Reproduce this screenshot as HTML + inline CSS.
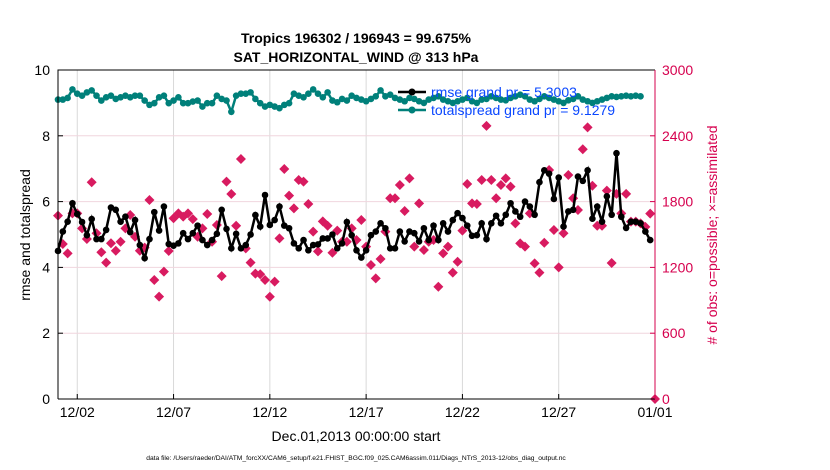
<!DOCTYPE html>
<html><head><meta charset="utf-8">
<style>
html,body{margin:0;padding:0;background:#fff;}
svg{display:block;font-family:"Liberation Sans",sans-serif;}
</style></head>
<body>
<svg id="chart" width="830" height="470" viewBox="0 0 830 470" xmlns="http://www.w3.org/2000/svg">
<g id="grid"></g>
<g id="series"></g>
<g id="axes"></g>
<text x="356" y="43" text-anchor="middle" font-size="14" font-weight="bold">Tropics 196302 / 196943 = 99.675%</text>
<text x="356" y="62" text-anchor="middle" font-size="14" font-weight="bold">SAT_HORIZONTAL_WIND @ 313 hPa</text>
<text transform="translate(30,235) rotate(-90)" text-anchor="middle" font-size="14">rmse and totalspread</text>
<text transform="translate(717,235) rotate(-90)" text-anchor="middle" font-size="14" fill="#d6004e"># of obs: o=possible; ×=assimilated</text>
<text x="356" y="441" text-anchor="middle" font-size="14">Dec.01,2013 00:00:00 start</text>
<text x="356" y="460" text-anchor="middle" font-size="6.7">data file: /Users/raeder/DAI/ATM_forcXX/CAM6_setup/f.e21.FHIST_BGC.f09_025.CAM6assim.011/Diags_NTrS_2013-12/obs_diag_output.nc</text>
<g id="legend">
  <g>
    <line x1="398" y1="92" x2="426" y2="92" stroke="#000" stroke-width="2.5"/>
    <circle cx="412" cy="92" r="3.5" fill="#000"/>
    <text x="431" y="97" font-size="14" fill="#0a47ff">rmse grand pr = 5.3003</text>
  </g>
  <g>
    <line x1="398" y1="110" x2="426" y2="110" stroke="#00807a" stroke-width="2.5"/>
    <circle cx="412" cy="110" r="3.5" fill="#00807a"/>
    <text x="431" y="115" font-size="14" fill="#0a47ff">totalspread grand pr = 9.1279</text>
  </g>
</g>
</svg>
<script>
const xTickDays = [2,7,12,17,22,27,32];
const xTickLabels = ["12/02","12/07","12/12","12/17","12/22","12/27","01/01"];
const leftTicks = [0,2,4,6,8,10];
const rightTicks = [0,600,1200,1800,2400,3000];
const rmse = [4.5,5.09,5.39,5.95,5.62,5.38,4.98,5.47,4.86,4.86,5.14,5.82,5.75,5.39,5.54,5.07,5.44,4.68,4.28,4.86,5.68,5.12,5.85,4.71,4.66,4.73,5.04,4.86,5.04,5.27,4.83,4.68,4.83,5.02,5.75,5.17,4.58,5.02,4.58,4.68,5.0,5.59,5.24,6.2,5.29,5.44,5.85,5.27,5.19,4.73,4.58,4.83,4.52,4.68,4.7,4.88,4.88,5.0,4.58,4.73,5.38,4.98,
4.52,4.3,4.52,4.98,5.09,5.34,5.19,4.58,4.58,5.09,4.79,5.09,5.04,4.79,5.19,4.83,5.27,4.83,5.34,5.09,5.44,5.65,5.5,5.27,4.96,4.98,5.34,4.86,5.34,5.57,5.34,5.6,5.95,5.7,5.54,6.0,5.85,5.6,6.59,6.95,6.85,6.08,6.73,5.24,5.7,5.75,6.76,6.63,6.95,5.48,5.85,5.39,6.16,5.6,7.47,5.54,5.2,5.39,5.39,5.34,5.09,4.83];
const spread = [9.1,9.1,9.15,9.41,9.28,9.22,9.32,9.38,9.22,9.07,9.17,9.22,9.12,9.17,9.22,9.17,9.22,9.22,9.07,8.94,8.99,9.17,9.22,8.99,9.07,9.17,8.99,8.99,9.04,9.07,8.89,8.99,8.99,9.22,9.12,9.07,8.73,9.22,9.28,9.28,9.32,9.12,8.99,8.89,8.94,8.89,8.84,8.94,8.99,9.28,9.22,9.17,9.28,9.41,9.28,9.17,9.32,9.07,9.02,9.12,9.07,9.22,
9.15,9.1,9.05,9.12,9.2,9.38,9.2,9.25,9.15,9.1,9.05,9.15,9.12,9.05,9.0,9.1,9.15,9.2,9.1,9.05,9.0,9.05,9.1,9.15,9.05,9.0,9.1,9.12,9.2,9.15,9.1,9.08,9.15,9.2,9.25,9.2,9.1,9.05,9.12,9.2,9.15,9.1,9.05,9.0,9.08,9.12,9.2,9.1,9.05,9.0,9.05,9.1,9.15,9.2,9.18,9.2,9.22,9.2,9.22,9.2];
const nobs = [1672,1413,1328,1693,1693,1556,1459,1976,1511,1338,1244,1420,1352,1434,1556,1678,1480,1352,1380,1815,1085,933,1161,1350,1648,1693,1663,1693,1640,1480,1556,1687,1434,1587,1121,1982,1869,1580,2188,1374,1244,1143,1137,1085,932,1070,1465,2097,1854,1738,1997,1982,1778,1526,1346,1620,1580,1334,1535,1434,1434,1556,
1450,1632,1389,1222,1100,1277,1526,1830,1830,1951,1714,2012,1389,1784,1359,1434,1450,1024,1328,1389,1152,1252,1535,1960,1784,1778,1997,2490,1997,1830,1951,2012,1936,1602,1419,1389,1693,1237,1152,1425,2088,1541,1200,1511,2042,1830,1723,2277,2477,1945,1580,1580,1900,1240,1870,1693,1870,1617,1617,1602,1570,1690,0];
const startDay = 1, stepDays = 0.25;

const NS="http://www.w3.org/2000/svg";
const L=58,R=655,T=70,B=399;
const xs=d=>L+(d-1)/31*(R-L);
const yl=v=>B-v/10*(B-T);
const yr=v=>B-v/3000*(B-T);
function mk(tag,attrs,parent){const e=document.createElementNS(NS,tag);for(const k in attrs)e.setAttribute(k,attrs[k]);parent.appendChild(e);return e;}
const grid=document.getElementById('grid'),axes=document.getElementById('axes'),ser=document.getElementById('series');
xTickDays.forEach((d,i)=>{
  const l=mk('line',{x1:xs(d),x2:xs(d),y1:T,y2:B,stroke:'#d9d9d9','stroke-width':1},grid);
  
  
  const t=mk('line',{x1:xs(d),x2:xs(d),y1:B,y2:B-5,stroke:'#000'},axes);
  
  
  const tx=mk('text',{x:xs(d),y:B+18,'text-anchor':'middle','font-size':14},axes);
  tx.textContent=xTickLabels[i];
  
  
});
leftTicks.forEach(v=>{
  if(v>0&&v<10){const g=mk('line',{x1:L,x2:R,y1:yl(v),y2:yl(v),stroke:'#f0d6de','stroke-width':1},grid);
  
  }
  const t=mk('line',{x1:L,x2:L+5,y1:yl(v),y2:yl(v),stroke:'#000'},axes);
  
  
  const tx=mk('text',{x:L-8,y:yl(v)+5,'text-anchor':'end','font-size':14},axes);
  tx.textContent=v;
  
  
});
rightTicks.forEach(v=>{
  const t=mk('line',{x1:R,x2:R-5,y1:yr(v),y2:yr(v),stroke:'#d6004e'},axes);
  
  
  const tx=mk('text',{x:R+7,y:yr(v)+5,'text-anchor':'start','font-size':14,fill:'#d6004e'},axes);
  tx.textContent=v;
  
  
});
const fr=mk('path',{d:`M${L},${B}V${T}H${R}M${L},${B}H${R}`,stroke:'#000',fill:'none','stroke-width':1},axes);


const ra=mk('line',{x1:R,x2:R,y1:T,y2:B,stroke:'#d6004e','stroke-width':1},axes);


nobs.forEach((v,i)=>{
  const x=xs(startDay+i*stepDays),y=yr(v);
  const p=mk('path',{d:`M${x},${y-5}L${x+5},${y}L${x},${y+5}L${x-5},${y}Z`,fill:'#d81b60'},ser);
  
  
});
function line(arr,color,name){
  const pts=arr.map((v,i)=>`${xs(startDay+i*stepDays).toFixed(1)},${yl(v).toFixed(1)}`).join(' ');
  const pl=mk('polyline',{points:pts,fill:'none',stroke:color,'stroke-width':2.5},ser);
  
  
  arr.forEach((v,i)=>{
    const c=mk('circle',{cx:xs(startDay+i*stepDays),cy:yl(v),r:3.3,fill:color},ser);
    
    
  });
}
line(spread,'#00807a','totalspread');
line(rmse,'#000','rmse');
</script>
</body></html>
